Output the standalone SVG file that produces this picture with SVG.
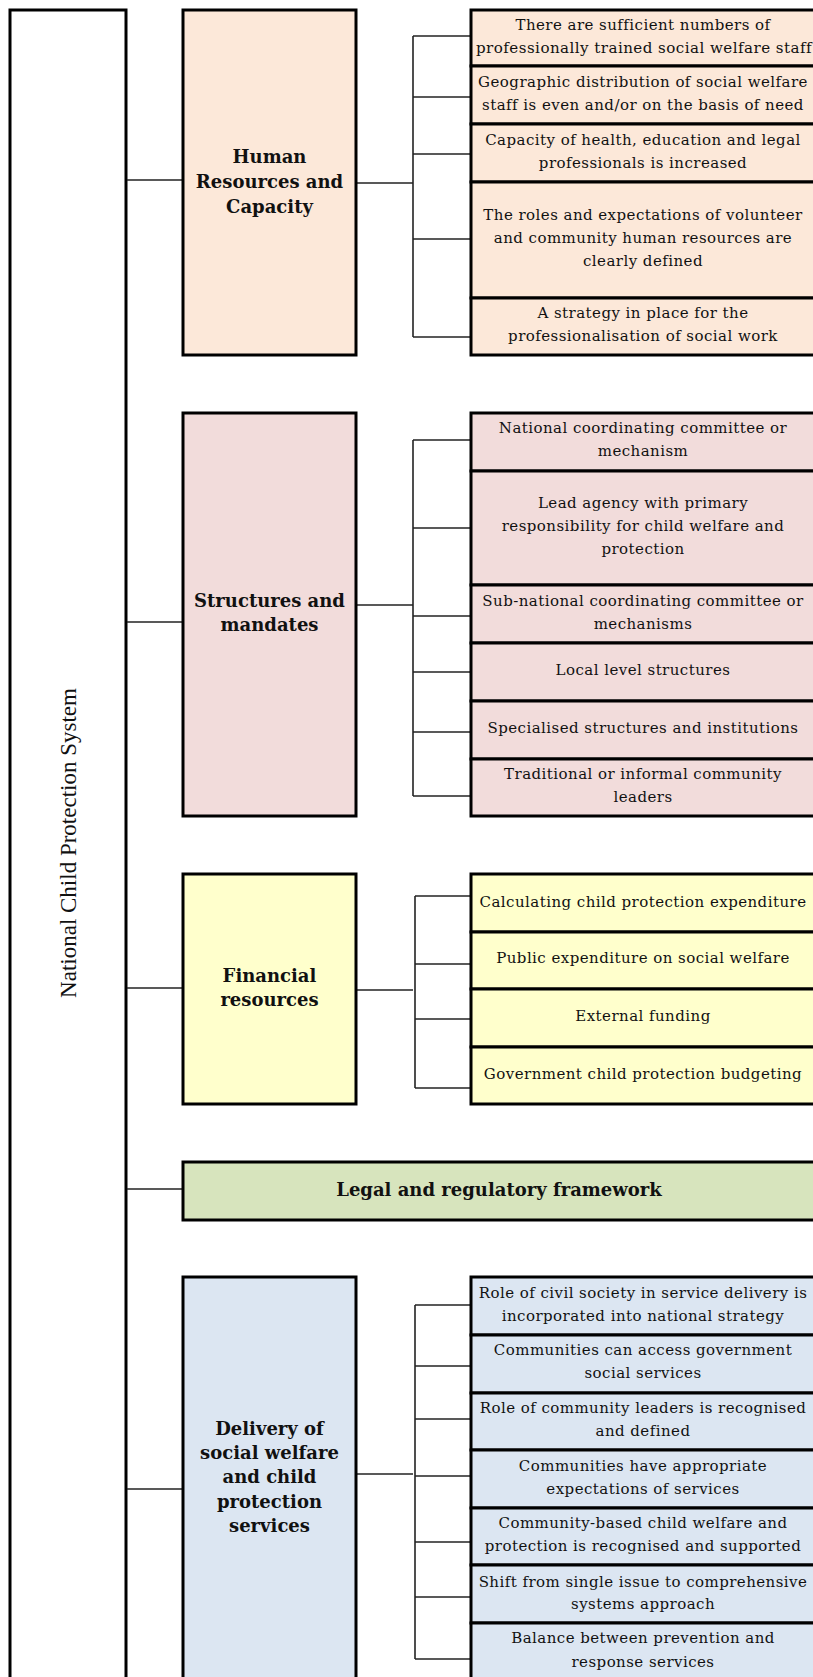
<svg xmlns="http://www.w3.org/2000/svg" width="813" height="1677" viewBox="0 0 813 1677">
<style>
.box{stroke:#000;stroke-width:3}
.hr{fill:#FCE8D9}.st{fill:#F2DCDB}.fi{fill:#FFFFCC}.le{fill:#D7E4BD}.de{fill:#DCE6F2}
.t{font-family:"DejaVu Serif","Liberation Serif",serif;font-size:15px;letter-spacing:0.45px;fill:#111;text-anchor:middle}
.b{font-family:"DejaVu Serif","Liberation Serif",serif;font-size:18px;font-weight:bold;fill:#111;text-anchor:middle}
.v{font-family:"Liberation Serif","Times New Roman",serif;font-size:23px;fill:#111;text-anchor:middle}
.c{stroke:#222;stroke-width:1.6;fill:none}
</style>
<g id="root">
<rect x="10" y="10" width="116" height="1690" fill="#fff" class="box"/>
<text class="v" transform="translate(76,843) rotate(-90)">National Child Protection System</text>
</g>
<g id="connectors">
<line class="c" x1="127" y1="180" x2="183" y2="180"/>
<line class="c" x1="127" y1="622" x2="183" y2="622"/>
<line class="c" x1="127" y1="988" x2="183" y2="988"/>
<line class="c" x1="127" y1="1189" x2="183" y2="1189"/>
<line class="c" x1="127" y1="1489" x2="183" y2="1489"/>
<line class="c" x1="356" y1="183" x2="413" y2="183"/>
<line class="c" x1="413" y1="36" x2="413" y2="337"/>
<line class="c" x1="413" y1="36" x2="471" y2="36"/>
<line class="c" x1="413" y1="97" x2="471" y2="97"/>
<line class="c" x1="413" y1="154" x2="471" y2="154"/>
<line class="c" x1="413" y1="239" x2="471" y2="239"/>
<line class="c" x1="413" y1="337" x2="471" y2="337"/>
<line class="c" x1="356" y1="605" x2="413" y2="605"/>
<line class="c" x1="413" y1="440" x2="413" y2="796"/>
<line class="c" x1="413" y1="440" x2="471" y2="440"/>
<line class="c" x1="413" y1="528" x2="471" y2="528"/>
<line class="c" x1="413" y1="616" x2="471" y2="616"/>
<line class="c" x1="413" y1="672" x2="471" y2="672"/>
<line class="c" x1="413" y1="732" x2="471" y2="732"/>
<line class="c" x1="413" y1="796" x2="471" y2="796"/>
<line class="c" x1="356" y1="990" x2="413" y2="990"/>
<line class="c" x1="415" y1="896" x2="415" y2="1088"/>
<line class="c" x1="415" y1="896" x2="471" y2="896"/>
<line class="c" x1="415" y1="964" x2="471" y2="964"/>
<line class="c" x1="415" y1="1019" x2="471" y2="1019"/>
<line class="c" x1="415" y1="1088" x2="471" y2="1088"/>
<line class="c" x1="356" y1="1474" x2="413" y2="1474"/>
<line class="c" x1="415" y1="1305" x2="415" y2="1659"/>
<line class="c" x1="415" y1="1305" x2="471" y2="1305"/>
<line class="c" x1="415" y1="1366" x2="471" y2="1366"/>
<line class="c" x1="415" y1="1419" x2="471" y2="1419"/>
<line class="c" x1="415" y1="1476" x2="471" y2="1476"/>
<line class="c" x1="415" y1="1542" x2="471" y2="1542"/>
<line class="c" x1="415" y1="1597" x2="471" y2="1597"/>
<line class="c" x1="415" y1="1659" x2="471" y2="1659"/>
</g>
<g id="hr">
<rect class="box hr" x="183" y="10" width="173" height="345"/>
<text class="b" x="269.5" y="163">Human</text>
<text class="b" x="269.5" y="188">Resources and</text>
<text class="b" x="269.5" y="213">Capacity</text>
</g>
<g id="hr1"><rect class="box hr" x="471" y="10" width="345" height="56"/>
<text class="t" x="643" y="30">There are sufficient numbers of</text><text class="t" x="644" y="53" textLength="336" lengthAdjust="spacingAndGlyphs">professionally trained social welfare staff</text></g>
<g id="hr2"><rect class="box hr" x="471" y="66" width="345" height="58"/>
<text class="t" x="643" y="87">Geographic distribution of social welfare</text><text class="t" x="643" y="110">staff is even and/or on the basis of need</text></g>
<g id="hr3"><rect class="box hr" x="471" y="124" width="345" height="58"/>
<text class="t" x="643" y="145">Capacity of health, education and legal</text><text class="t" x="643" y="168">professionals is increased</text></g>
<g id="hr4"><rect class="box hr" x="471" y="182" width="345" height="116"/>
<text class="t" x="643" y="220">The roles and expectations of volunteer</text><text class="t" x="643" y="243">and community human resources are</text><text class="t" x="643" y="266">clearly defined</text></g>
<g id="hr5"><rect class="box hr" x="471" y="298" width="345" height="57"/>
<text class="t" x="643" y="318">A strategy in place for the</text><text class="t" x="643" y="341">professionalisation of social work</text></g>

<g id="st">
<rect class="box st" x="183" y="413" width="173" height="403"/>
<text class="b" x="269.5" y="607">Structures and</text>
<text class="b" x="269.5" y="631">mandates</text>
</g>
<g id="st1"><rect class="box st" x="471" y="413" width="345" height="58"/>
<text class="t" x="643" y="433">National coordinating committee or</text><text class="t" x="643" y="456">mechanism</text></g>
<g id="st2"><rect class="box st" x="471" y="471" width="345" height="114"/>
<text class="t" x="643" y="508">Lead agency with primary</text><text class="t" x="643" y="531">responsibility for child welfare and</text><text class="t" x="643" y="554">protection</text></g>
<g id="st3"><rect class="box st" x="471" y="585" width="345" height="58"/>
<text class="t" x="643" y="606">Sub-national coordinating committee or</text><text class="t" x="643" y="629">mechanisms</text></g>
<g id="st4"><rect class="box st" x="471" y="643" width="345" height="58"/>
<text class="t" x="643" y="675">Local level structures</text></g>
<g id="st5"><rect class="box st" x="471" y="701" width="345" height="58"/>
<text class="t" x="643" y="733">Specialised structures and institutions</text></g>
<g id="st6"><rect class="box st" x="471" y="759" width="345" height="57"/>
<text class="t" x="643" y="779">Traditional or informal community</text><text class="t" x="643" y="802">leaders</text></g>

<g id="fi">
<rect class="box fi" x="183" y="874" width="173" height="230"/>
<text class="b" x="269.5" y="982">Financial</text>
<text class="b" x="269.5" y="1006">resources</text>
</g>
<g id="fi1"><rect class="box fi" x="471" y="874" width="345" height="58"/>
<text class="t" x="643" y="907">Calculating child protection expenditure</text></g>
<g id="fi2"><rect class="box fi" x="471" y="932" width="345" height="57"/>
<text class="t" x="643" y="963">Public expenditure on social welfare</text></g>
<g id="fi3"><rect class="box fi" x="471" y="989" width="345" height="58"/>
<text class="t" x="643" y="1021">External funding</text></g>
<g id="fi4"><rect class="box fi" x="471" y="1047" width="345" height="57"/>
<text class="t" x="643" y="1079">Government child protection budgeting</text></g>

<g id="le">
<rect class="box le" x="183" y="1162" width="633" height="58"/>
<text class="b" x="499" y="1196">Legal and regulatory framework</text>
</g>

<g id="de">
<rect class="box de" x="183" y="1277" width="173" height="420"/>
<text class="b" x="269.5" y="1435">Delivery of</text>
<text class="b" x="269.5" y="1459">social welfare</text>
<text class="b" x="269.5" y="1483">and child</text>
<text class="b" x="269.5" y="1508">protection</text>
<text class="b" x="269.5" y="1532">services</text>
</g>
<g id="de1"><rect class="box de" x="471" y="1277" width="345" height="58"/>
<text class="t" x="643" y="1298">Role of civil society in service delivery is</text><text class="t" x="643" y="1321">incorporated into national strategy</text></g>
<g id="de2"><rect class="box de" x="471" y="1335" width="345" height="58"/>
<text class="t" x="643" y="1355">Communities can access government</text><text class="t" x="643" y="1378">social services</text></g>
<g id="de3"><rect class="box de" x="471" y="1393" width="345" height="57"/>
<text class="t" x="643" y="1413">Role of community leaders is recognised</text><text class="t" x="643" y="1436">and defined</text></g>
<g id="de4"><rect class="box de" x="471" y="1450" width="345" height="58"/>
<text class="t" x="643" y="1471">Communities have appropriate</text><text class="t" x="643" y="1494">expectations of services</text></g>
<g id="de5"><rect class="box de" x="471" y="1508" width="345" height="57"/>
<text class="t" x="643" y="1528">Community-based child welfare and</text><text class="t" x="643" y="1551">protection is recognised and supported</text></g>
<g id="de6"><rect class="box de" x="471" y="1565" width="345" height="58"/>
<text class="t" x="643" y="1587">Shift from single issue to comprehensive</text><text class="t" x="643" y="1609">systems approach</text></g>
<g id="de7"><rect class="box de" x="471" y="1623" width="345" height="74"/>
<text class="t" x="643" y="1643">Balance between prevention and</text><text class="t" x="643" y="1667">response services</text></g>
</svg>
